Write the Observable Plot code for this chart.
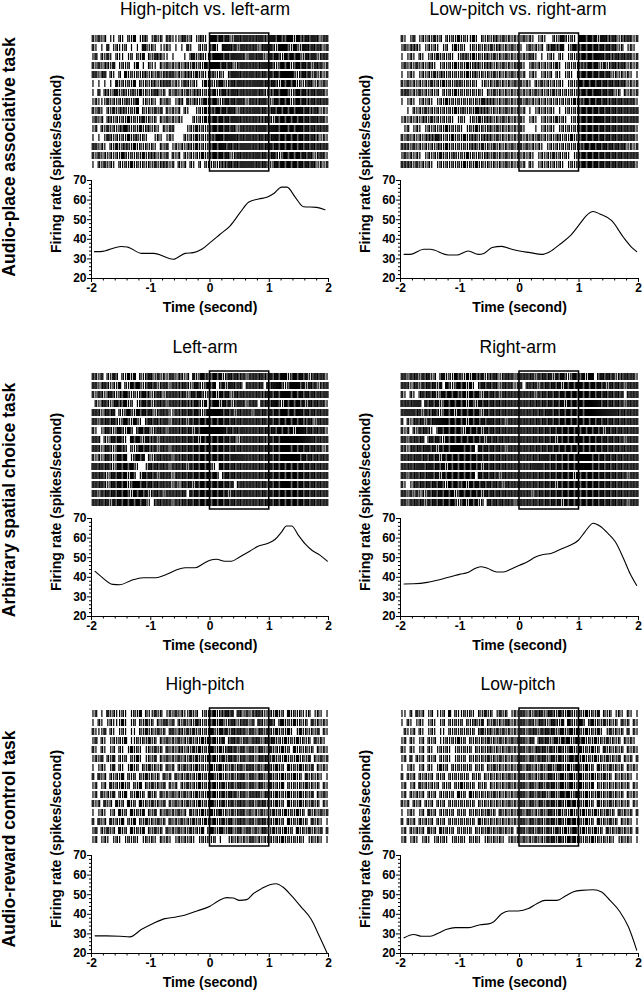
<!DOCTYPE html>
<html><head><meta charset="utf-8">
<script src="https://cdn.jsdelivr.net/npm/d3@7"></script>
<script src="https://cdn.jsdelivr.net/npm/@observablehq/plot@0.6"></script>
<style>
body{margin:0;background:#fff;}
#chart{position:relative;width:643px;height:992px;font-family:Arial,"Liberation Sans",sans-serif;color:#000;overflow:hidden;background:#fff}
.abs{position:absolute;white-space:nowrap;line-height:1}
.title{font-size:17.5px;transform:translate(-50%,0)}
.ylab{font-size:14px;font-weight:bold;writing-mode:vertical-rl;transform:translate(-50%,-50%) rotate(180deg)}
.rowlab{font-size:17.5px;font-weight:bold;writing-mode:vertical-rl;transform:translate(-50%,-50%) rotate(180deg)}
#chart svg{position:absolute;overflow:visible}
</style></head><body><div id="chart"></div>
<script>
// ---------- labels ----------
const rowLabels = ["Audio-place associative task", "Arbitrary spatial choice task", "Audio-reward control task"];
const panelTitles = ["High-pitch vs. left-arm", "Low-pitch vs. right-arm", "Left-arm", "Right-arm", "High-pitch", "Low-pitch"];
const yAxisLabel = "Firing rate (spikes/second)";
const xAxisLabel = "Time (second)";
const eventWindow = [0, 1];
const xTicks = [-2, -1, 0, 1, 2];
const xMinorTicks = [-1.8,-1.6,-1.4,-1.2,-0.8,-0.6,-0.4,-0.2,0.2,0.4,0.6,0.8,1.2,1.4,1.6,1.8];
const yTicks = [20, 30, 40, 50, 60, 70];
const yMinorTicks = [22,24,26,28,32,34,36,38,42,44,46,48,52,54,56,58,62,64,66,68];
const binSeconds = 0.05; // each digit = spikes in a 50 ms bin, from -2 s to 2 s

// ---------- raster (spike counts per 50 ms bin, 15 trials each) ----------
const rasterHighLeft = [
"2131201102 1021301220 1312022111 2312012210 3323232133 2332323322 3323223313 2232332132",
"2101030121 1201010321 2101121010 1031002120 2310333231 3323231233 3213332132 1332323213",
"1302131021 1012021302 1322110100 0102312211 2333232333 3213323312 3232132323 2132331232",
"2131221301 2120130102 1102131212 1221312132 3332323212 3323232333 3212323123 2323132312",
"2312302102 0312121221 2131222312 1222131211 2212102333 2323323232 3232333321 2323131212",
"1010101031 2121302121 2212232121 1321210131 2123212323 3232333323 2321323231 2123212131",
"1030221231 2212213121 2321202131 2131222121 2312322332 3232332321 2232332123 2322323321",
"1211131212 1221230121 2102131012 2031221231 2321232323 3212322332 1232323123 2322323232",
"2131021312 2212130212 1313021212 0210012131 2232323321 3232333232 2323232323 3232232121",
"1312022121 2131212312 1202131212 1000212131 2323232333 2323232223 2132323232 3232332321",
"1202131212 2321213122 1210212200 0012131212 2323232321 3232323332 3332332323 3232323232",
"1010132121 2131221210 0121012100 0212131212 2233233332 3233232323 2332323232 3232322121",
"2312102131 2221312121 2102130121 2122131212 2323323232 3333232323 3232323232 3232323232",
"2131212121 3212121312 2212130212 0212121312 2323232123 2323233232 2321232323 2323212321",
"1021312102 1213121212 1312221202 1202102021 1212223232 3333323232 1232323232 3232321212"
];
const rasterLowRight = [
"2101301212 1312021213 1211310212 1221312121 1312101210 0212321210 3323231332 2321223212",
"1312221012 1210120131 2101212121 3122121312 1013121202 2322301232 2323232323 2321201210",
"1012102101 2131212101 2221312122 1312131212 1213210101 2102101212 2323233323 2232323212",
"1312131212 2101212131 2131222122 2121312122 2101312121 2131012121 2223232131 2322321212",
"1012101212 1312212121 2131221212 1312121312 1201210121 2021012101 2323232323 2121212101",
"2131212121 3121312122 2121210121 2131212131 2121021312 1212101212 3232323232 3232321212",
"2231213121 2120212131 2121212102 1312121212 1212131212 1312121212 2323233232 3212021212",
"1012101212 1012131212 1212121322 2212131212 2131212121 2121212131 2232323232 2323232321",
"0010212131 2121212131 2212132222 1212131212 1201012121 2101012121 2323232323 2323232323",
"1212121221 3121212101 2101213122 2121312121 2101210121 2131210121 2323233323 2323232323",
"0120121012 1212131212 1012131212 2131212121 2100010121 2101212121 2323232323 2323232321",
"2131212122 2232121312 1312221222 2131212121 2121213121 2122121312 2323232323 2323232321",
"2221312121 2122131212 1212221312 1312121312 2131212101 2121212121 2232323232 3232321212",
"1312121012 1213121221 2131212122 1312131212 1212101212 1312121012 2323232323 2323232323",
"2222131212 1012121212 1312131212 1212131212 1202101212 1212101212 2323232323 2323232321"
];
const rasterLeftArm = [
"2213021320 2131302123 2131212312 2120312322 2323123232 2313232322 3232331232 3231232321",
"2312321213 0213232123 2312321322 2321232123 2302313323 2023232303 2333212333 2313231223",
"2132123212 2321212322 1232123232 2312323212 2313232132 3232323223 3232333232 3232323233",
"0212321232 2312012323 1232313232 2322232130 2331323123 3213230323 2332132323 2313232321",
"2321232302 1232132323 2123231132 2323232123 3333232313 2323133232 3232332323 3232323232",
"2313232321 2321321023 2322331232 2313232323 2323232323 2332323232 3232323232 3223213232",
"2101232123 2132023232 1232313232 2323132333 3333323232 3323232323 2323232313 3323232321",
"2320212323 2103232132 2313232323 2323231323 2323232321 2323232322 3232333333 3333323232",
"2321232123 2202123232 2313231323 2323232323 2323232323 2323232323 3232333232 3232323212",
"2121232123 2301232302 1232323132 2323232323 2323232333 3323232323 3232333333 2323232323",
"3323232123 2323210013 2323231323 2313232323 2103232323 2323232323 3232323232 3232323232",
"2323212323 2313201323 2313232123 2323232323 2320232323 2323232323 3232323232 3232323232",
"2323212323 2312332323 2323232131 2323132323 2323232302 3232323232 3232333232 3232323232",
"2313232323 2321323231 2323132323 2303232323 2323231323 2332323232 3232323232 3232323232",
"2323231323 2323232321 0232323132 2323232323 2323232323 2323232323 3232323232 3232323232"
];
const rasterRightArm = [
"2313231323 1202312132 2131322312 2321232313 3232313232 3132321232 2313302323 2312232321",
"2321231323 2313032123 2313102323 2321323212 2023231323 2323132323 3232323231 3232313232",
"2102102323 2312323232 2313232132 3231323232 3232313232 3232323232 3232323232 3232302323",
"3232333032 3231232323 2313213232 3232323232 3232323232 3232313232 3233333232 3232313232",
"2333323132 2321232313 2323232132 3232323233 2323232323 3232323232 3233333333 3332323232",
"2021232313 2333332323 2313232323 3232313232 3232323232 3232323232 3232323232 3232323232",
"2120213232 1023232323 2132323132 3232323232 2323232323 2323232323 2323232313 2323232323",
"2313232302 3232132323 2323232313 2323232323 2323232323 2313232323 3232323232 3232313232",
"2212323233 2313232333 3232303232 3232313232 3232323232 3232323232 3232323232 3232323232",
"2323233232 3231323232 3232323232 3232323232 2323232333 2323232323 3333232323 2323232323",
"2323233323 3232313232 3232323132 3232323232 3232333323 2323232323 3333232323 2323232323",
"2313232323 3231323232 3232303232 3231323232 2323232323 2323232313 2323232323 2323231323",
"2101232323 2323213232 2313232323 2323132323 2323232323 2313232323 2323232323 2323232323",
"2313131213 2323232312 3232323132 3232323232 2323132323 2323232323 2323232323 2323232323",
"2313232313 2323232321 2313231203 2323232313 2323232323 2323132323 2323232323 2323231323"
];
const rasterHighPitch = [
"1201031211 2101213021 1312012131 2113120121 2312232303 2131223212 2131203121 2112012101",
"1021012111 3101202131 2021321302 1312132121 2313212321 2321303212 3202312131 2120312121",
"2111302101 2101102131 2131202312 2131312121 3213231323 2312312313 2131213101 3121213021",
"1302101212 1301121213 1202131213 1213121313 2312302323 1231323123 2312131213 1212031210",
"2102101202 1013121012 1312031212 2121313121 3213123231 3213212312 3121312031 2121202121",
"1213021302 1202131012 1302131213 1213131213 2312313231 2313212323 1312131213 1213021312",
"1012101302 1013120213 1212031202 1312131212 3123121312 3123213123 2131203121 3121302121",
"2031202121 3021202131 2120312031 2131213121 3213121312 3212312312 3121312131 2031212101",
"1201203121 3120213021 3121302120 2131213121 2312312313 2312312312 3121302121 2131212021",
"1203121302 1302131203 1203121312 1312131213 2312313231 2312323123 2131213121 3121302131",
"2120312031 2031203121 3121302131 2131213121 3212312313 2313213231 2131203121 3121312021",
"1012101203 1203121302 1302131213 1203121312 3123121312 3213121312 1312131213 1203121312",
"2031203121 3021302131 2131203121 3121312131 2312313213 2313213231 2131203121 3120312101",
"1302131203 1203121302 1312031213 1213121302 3213213213 2132131232 1312131203 1213121302",
"1201210121 0121210121 2102121012 1212101212 1201001212 1212312121 2121312121 2101212101"
];
const rasterLowPitch = [
"1102031201 2011203021 1212102131 2013120121 2312132312 3213213212 2131213021 2012102101",
"1021012101 2101202121 2021221302 1312132121 2313212321 2321303212 3202312131 2120312021",
"0211202101 2101102121 2121202312 2131312121 3213231323 2312312313 2131213101 3121203021",
"1202101202 1201121213 1202121213 1213121313 2312302323 1231323123 2312131213 1212021210",
"2102101202 1012121012 1212021212 2121213121 3213123231 3213212312 3121312031 2121202121",
"1203021202 1202121012 1202121213 1213121213 2312313231 2313212323 1312131213 1213021202",
"1012101202 1013120212 1212021202 1312121212 3123121312 3123213123 2131203121 3121202121",
"2021202121 2021202121 2120212021 2121213121 3213121312 3212312312 3121312131 2021212101",
"1201203121 2120212021 3121202120 2121213121 2312312313 2312312312 3121302121 2121212021",
"1202121202 1202121203 1203121212 1312121213 2312313231 2312323123 2131213121 3121202121",
"2120212021 2021202121 2121202121 2121213121 3212312313 2313213231 2131203121 3121212021",
"1012101203 1202121202 1202121213 1203121212 3123121312 3213121312 1312131213 1203121202",
"2021202121 2021202121 2121203121 2121212121 2312313213 2313213231 2131203121 3120212101",
"1202121203 1203121202 1212021213 1213121202 3213213213 2132131232 1312131203 1213121202",
"1201210121 0121210121 2102121012 1212101212 1312131213 2313213231 2121312121 2101212101"
];

// ---------- firing rate curves ----------
const timeHighLeft = [-1.95,-1.85,-1.5,-1.4,-1.15,-0.95,-0.62,-0.42,-0.28,-0.14,0,0.17,0.34,0.51,0.65,0.82,0.96,1.07,1.21,1.3,1.44,1.58,1.8,1.94];
const rateHighLeft = [33.7,33.7,36.3,36.1,32.8,32.8,29.8,32.8,33.2,34.9,38.3,42.6,46.9,53.7,58.9,60.6,61.4,63.2,66.6,66.6,61.4,56.6,56.3,55.1];
const timeLowRight = [-1.94,-1.83,-1.61,-1.5,-1.19,-1.05,-0.86,-0.69,-0.6,-0.46,-0.3,-0.13,0,0.18,0.37,0.51,0.68,0.85,1.01,1.12,1.24,1.35,1.55,1.75,1.89,1.97];
const rateLowRight = [32.3,32.3,34.9,34.9,32.0,32.0,34.0,32.3,32.8,35.8,36.4,34.9,34.0,33.2,32.3,33.7,37.5,41.7,47.7,52.0,54.2,52.9,49.5,40.9,35.8,33.7];
const timeLeftArm = [-1.94,-1.86,-1.64,-1.52,-1.33,-1.13,-0.91,-0.73,-0.56,-0.42,-0.25,-0.11,0,0.11,0.25,0.36,0.5,0.67,0.81,0.98,1.1,1.21,1.29,1.38,1.49,1.61,1.72,1.86,1.98];
const rateLeftArm = [43.0,41.0,36.4,36.2,38.4,39.8,39.8,41.5,43.9,44.9,44.9,47.0,48.7,49.2,48.2,48.2,50.4,53.3,55.8,57.4,59.4,63.2,66.2,66.2,61.5,56.9,53.8,51.2,48.2];
const timeRightArm = [-1.94,-1.78,-1.55,-1.33,-1.13,-1.01,-0.87,-0.73,-0.65,-0.54,-0.38,-0.27,-0.13,0,0.15,0.26,0.4,0.54,0.71,0.85,0.99,1.1,1.24,1.35,1.49,1.61,1.75,1.86,1.97];
const rateRightArm = [36.6,36.7,37.4,38.9,40.5,41.5,42.4,44.7,45.4,44.6,42.7,42.7,44.4,46.1,48.2,50.2,51.6,52.3,54.6,56.3,58.9,63.2,67.6,66.2,62.3,58.1,49.5,41.8,35.8];
const timeHighPitch = [-1.94,-1.75,-1.52,-1.35,-1.16,-0.96,-0.76,-0.6,-0.43,-0.22,0,0.14,0.28,0.39,0.5,0.62,0.73,0.87,1.01,1.12,1.23,1.37,1.54,1.71,1.84,1.98];
const rateHighPitch = [29.0,29.0,28.8,28.5,32.2,35.3,37.8,38.5,39.5,41.7,44.1,46.8,48.5,48.3,47.1,47.5,50.5,53.1,55.1,55.6,53.9,49.7,43.7,37.3,29.2,20.0];
const timeLowPitch = [-1.94,-1.78,-1.64,-1.5,-1.36,-1.22,-1.08,-0.85,-0.66,-0.52,-0.44,-0.3,-0.18,-0.02,0.15,0.29,0.43,0.63,0.77,0.91,1.04,1.24,1.38,1.52,1.69,1.83,1.97];
const rateLowPitch = [28.0,29.7,28.8,28.8,30.5,32.4,33.2,33.2,34.7,35.1,36.1,40.3,41.7,41.7,42.9,45.4,47.1,47.1,49.3,51.5,52.2,52.5,51.4,47.1,41.2,33.6,21.7];

const rasters = [rasterHighLeft, rasterLowRight, rasterLeftArm, rasterRightArm, rasterHighPitch, rasterLowPitch];
const times = [timeHighLeft, timeLowRight, timeLeftArm, timeRightArm, timeHighPitch, timeLowPitch];
const rates = [rateHighLeft, rateLowRight, rateLeftArm, rateRightArm, rateHighPitch, rateLowPitch];

// ---------- layout ----------
const rowOffset = [0, 338, 675];
const col = [
  {left: 0, width: 335, marginLeft: 91, marginRight: 7, titleX: 205, ylabX: 55.5},
  {left: 321, width: 322, marginLeft: 79, marginRight: 5, titleX: 518, ylabX: 365}
];
const rowLabelCenters = [157, 500, 839];
const font = 'Arial, "Liberation Sans", sans-serif';

function decodeRaster(rows) {
  const out = [];
  rows.forEach((s, row) => {
    const bins = s.replace(/ /g, "");
    for (let i = 0; i < bins.length; i++) {
      const n = +bins[i];
      for (let k = 0; k < n; k++) {
        const t = -2 + (i + (k + 0.5) / n) * binSeconds;
        if (t <= 2) out.push({row, t});
      }
    }
  });
  return out;
}

const chart = document.getElementById("chart");
function addDiv(cls, text, x, y) {
  const d = document.createElement("div");
  d.className = "abs " + cls;
  d.textContent = text;
  d.style.left = x + "px";
  d.style.top = y + "px";
  chart.appendChild(d);
}
function place(svg, left, top) {
  svg.style.left = left + "px";
  svg.style.top = top + "px";
  chart.appendChild(svg);
}

rowLabels.forEach((lab, r) => addDiv("rowlab", lab, 10, rowLabelCenters[r]));

for (let p = 0; p < 6; p++) {
  const r = Math.floor(p / 2), c = p % 2;
  const off = rowOffset[r], C = col[c];
  addDiv("title", panelTitles[p], C.titleX, off + 1);
  addDiv("ylab", yAxisLabel, C.ylabX, 164 + off);

  const spikes = decodeRaster(rasters[p]);
  const raster = Plot.plot({
    width: C.width, height: 147,
    marginLeft: C.marginLeft, marginRight: C.marginRight, marginTop: 5, marginBottom: 4,
    style: {background: "transparent", fontFamily: font},
    x: {domain: [-2, 2], axis: null},
    y: {domain: d3.range(15), axis: null, padding: 0.2},
    marks: [
      Plot.tickX(spikes, {x: "t", y: "row", stroke: "black", strokeWidth: 1.2}),
      Plot.rect([{x1: eventWindow[0], x2: eventWindow[1]}], {x1: "x1", x2: "x2", fill: "none", stroke: "black", strokeWidth: 1.5})
    ]
  });
  place(raster, C.left, 28 + off);

  const curve = times[p].map((t, i) => ({t, rate: rates[p][i]}));
  const ratePlot = Plot.plot({
    width: C.width, height: 160,
    marginLeft: C.marginLeft, marginRight: C.marginRight, marginTop: 15, marginBottom: 47,
    style: {background: "transparent", fontFamily: font, fontSize: "12px", color: "black"},
    x: {domain: [-2, 2]},
    y: {domain: [20, 70]},
    marks: [
      Plot.axisY(yMinorTicks, {tickSize: 2, tickFormat: () => "", label: null}),
      Plot.axisY(yTicks, {tickSize: 4, tickPadding: 1, tickFormat: d => String(d), fontWeight: "bold", fontSize: 12, label: null}),
      Plot.axisX(xMinorTicks, {tickSize: 2.5, tickFormat: () => "", label: null}),
      Plot.axisX(xTicks, {tickSize: 4, tickPadding: 1, tickFormat: d => String(d), fontWeight: "bold", fontSize: 12, label: null}),
      Plot.ruleY([20], {stroke: "black"}),
      Plot.ruleX([-2], {stroke: "black"}),
      Plot.line(curve, {x: "t", y: "rate", curve: "monotone-x", stroke: "black", strokeWidth: 1.1}),
      Plot.text([xAxisLabel], {text: d => d, frameAnchor: "bottom", dy: 29, fontSize: 14, fontWeight: "bold", lineAnchor: "middle"})
    ]
  });
  place(ratePlot, C.left, 165 + off);
}
</script></body></html>
